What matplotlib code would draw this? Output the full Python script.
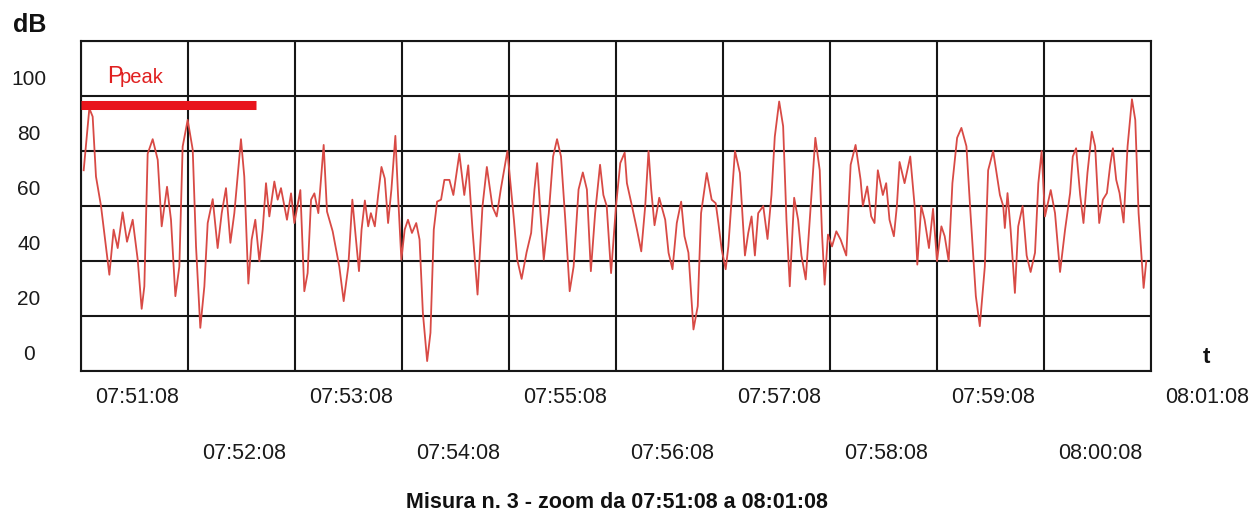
import matplotlib.pyplot as plt
import matplotlib.transforms as mtransforms

plt.rcParams['font.family'] = ['Liberation Sans', 'DejaVu Sans']

# minutes after 07:51:08, level in dB
t_min = [
    0.025, 0.078, 0.109, 0.140, 0.187, 0.265, 0.305, 0.343, 0.389, 0.430,
    0.483, 0.530, 0.567, 0.592, 0.623, 0.670, 0.717, 0.754, 0.804, 0.841,
    0.882, 0.919, 0.950, 0.997, 1.044, 1.075, 1.115, 1.153, 1.184, 1.231,
    1.277, 1.315, 1.355, 1.396, 1.433, 1.495, 1.526, 1.564, 1.595, 1.629,
    1.667, 1.698, 1.729, 1.760, 1.807, 1.838, 1.869, 1.925, 1.963, 1.994,
    2.050, 2.087, 2.118, 2.150, 2.181, 2.218, 2.268, 2.299, 2.352, 2.414,
    2.455, 2.498, 2.536, 2.567, 2.598, 2.622, 2.653, 2.684, 2.709, 2.746,
    2.777, 2.808, 2.839, 2.870, 2.901, 2.938, 2.963, 2.994, 3.025, 3.056,
    3.093, 3.133, 3.164, 3.195, 3.235, 3.266, 3.297, 3.328, 3.365, 3.396,
    3.443, 3.480, 3.536, 3.582, 3.619, 3.659, 3.706, 3.752, 3.793, 3.845,
    3.885, 3.923, 3.985, 4.046, 4.077, 4.118, 4.164, 4.207, 4.238, 4.263,
    4.294, 4.325, 4.372, 4.412, 4.449, 4.486, 4.526, 4.567, 4.604, 4.650,
    4.690, 4.728, 4.765, 4.805, 4.851, 4.882, 4.913, 4.954, 5.000, 5.040,
    5.081, 5.102, 5.149, 5.196, 5.236, 5.273, 5.304, 5.329, 5.360, 5.404,
    5.460, 5.491, 5.528, 5.568, 5.609, 5.640, 5.677, 5.724, 5.764, 5.795,
    5.848, 5.894, 5.932, 5.957, 5.988, 6.025, 6.050, 6.112, 6.158, 6.205,
    6.236, 6.267, 6.298, 6.329, 6.376, 6.416, 6.453, 6.484, 6.525, 6.562,
    6.593, 6.624, 6.665, 6.702, 6.733, 6.773, 6.811, 6.863, 6.904, 6.925,
    6.950, 6.981, 7.019, 7.059, 7.099, 7.152, 7.193, 7.239, 7.286, 7.307,
    7.348, 7.385, 7.416, 7.447, 7.494, 7.525, 7.556, 7.597, 7.625, 7.650,
    7.697, 7.750, 7.791, 7.816, 7.853, 7.884, 7.925, 7.963, 8.000, 8.041,
    8.072, 8.109, 8.144, 8.188, 8.228, 8.275, 8.313, 8.363, 8.400, 8.447,
    8.478, 8.525, 8.556, 8.588, 8.619, 8.634, 8.659, 8.688, 8.728, 8.759,
    8.800, 8.838, 8.875, 8.916, 8.947, 8.978, 9.009, 9.063, 9.103, 9.150,
    9.197, 9.244, 9.269, 9.300, 9.338, 9.369, 9.406, 9.447, 9.478, 9.516,
    9.550, 9.588, 9.619, 9.644, 9.675, 9.706, 9.744, 9.781, 9.822, 9.853,
    9.884, 9.931, 9.956,
]
level_db = [
    73, 95.5, 92.5, 70.7, 60, 35, 51.4, 44.7, 57.7, 47,
    55, 40.5, 22.6, 30.8, 79, 84.3, 76.8, 52.6, 67, 55,
    27.2, 38, 81.6, 91.3, 80.5, 45.3, 15.7, 30.8, 53.8, 62.5,
    44.7, 57.4, 66.5, 46.6, 57.4, 84.3, 70.7, 31.8, 47.8, 55,
    39.9, 51.4, 68.3, 56.2, 68.9, 62.3, 66.5, 55, 64.6, 53.8,
    65.8, 29, 35.6, 62.3, 64.6, 57.4, 82.2, 58, 50.8, 38,
    25.4, 38, 62.3, 49, 36.3, 51.4, 62, 52.6, 57.4, 52.6,
    64, 74.2, 70, 53.8, 66, 85.5, 64, 40.5, 51.4, 55,
    50.2, 53.8, 47.8, 21.2, 3.6, 13.9, 51.4, 61.6, 62.3, 69.5,
    69.5, 64, 79, 64, 74.8, 51.4, 27.8, 59.8, 74.2, 59.8,
    56.2, 66, 80, 55, 40.5, 33.5, 43.1, 50.2, 66, 75.6,
    57.4, 40.5, 57.4, 78, 84.3, 78, 55, 29, 38, 66,
    72.2, 66, 36.3, 57.4, 75, 64, 60, 35.6, 60, 75.6,
    79.4, 68.3, 60, 51.4, 43.5, 60, 80, 66, 53, 63,
    55, 43, 37, 53.8, 61.6, 49, 43, 15.1, 23.6, 57.4,
    72, 62.3, 61, 53.8, 44.1, 37, 45.3, 80, 72, 42,
    50.2, 56.2, 42, 57.4, 60, 48, 64, 85.2, 98, 89,
    55, 30.8, 63, 55, 42, 33.3, 55, 84.8, 73, 50.2,
    31.4, 49.6, 45.3, 50.8, 47.8, 42, 75, 82.2, 69.5, 60,
    67.1, 56.2, 53.8, 73, 64, 68.3, 55, 49, 60, 76,
    68.3, 78, 60, 38.7, 60, 55, 44.7, 59, 40, 52.6,
    49, 40, 68.3, 84.8, 88.4, 81.7, 57.4, 27.2, 16.3, 38,
    73, 80, 72, 64, 60, 52, 64.7, 51.4, 28.4, 52.6,
    60, 42, 36, 43, 68.3, 80, 56.2, 65.8, 57.4, 36,
    51.4, 64.7, 78, 81, 64, 53.8, 72, 87, 81.7, 53.8,
    62.3, 64.7, 75, 81, 69.5, 64.7, 54, 81.7, 98.8, 91.3,
    57.4, 30.2, 40,
]

p_peak = 96.9          # dB
p_peak_span = [0, 1.636]

time_labels = ['07:51:08', '07:52:08', '07:53:08', '07:54:08', '07:55:08', '07:56:08',
               '07:57:08', '07:58:08', '07:59:08', '08:00:08', '08:01:08']
db_labels = [0, 20, 40, 60, 80, 100]

fig = plt.figure(figsize=(12.5, 5.17), dpi=100)
ax = fig.add_axes([0.0648, 0.2824, 0.856, 0.6383])

grid_c = '#161616'
ax.set_xlim(0, 10)
ax.set_ylim(0, 120)
ax.set_xticks(range(11))
ax.set_yticks(range(0, 121, 20))
ax.grid(True, color=grid_c, linewidth=1.5)
ax.tick_params(length=0, labelbottom=False, labelleft=False)
for s in ax.spines.values():
    s.set_color(grid_c)
    s.set_linewidth(1.5)

ax.plot(t_min, level_db, color='#d84a45', linewidth=1.3, zorder=3,
        solid_joinstyle='round')
ax.plot(p_peak_span, [p_peak, p_peak], color='#e8141c', linewidth=6.5,
        solid_capstyle='butt', zorder=4, clip_on=False)

# P peak label
ax.text(0.0243, 0.873, 'P', transform=ax.transAxes, color='#e02020',
        fontsize=17, va='baseline', ha='left')
ax.text(0.0365, 0.873, 'peak', transform=ax.transAxes, color='#e02020',
        fontsize=14.5, va='baseline', ha='left')

# y labels sit a bit above their grid lines
ylab_off = mtransforms.ScaledTranslation(0, 0.16, fig.dpi_scale_trans)
ytrans = mtransforms.blended_transform_factory(ax.transAxes, ax.transData) + ylab_off
for v in db_labels:
    ax.text(-0.0486, v, str(v), transform=ytrans, ha='center', va='center',
            fontsize=15, color='#1a1a1a')

# time labels, alternating rows, shifted right of their grid line
xtrans = mtransforms.blended_transform_factory(ax.transData, ax.transAxes)
for i, lab in enumerate(time_labels):
    yy = -0.0818 if i % 2 == 0 else -0.2485
    ax.text(i + 0.523, yy, lab, transform=xtrans, ha='center', va='center',
            fontsize=15.5, color='#1a1a1a')

fig.text(0.024, 0.9516, 'dB', ha='center', va='center', fontsize=18,
         fontweight='bold', color='#111111')
fig.text(0.9648, 0.309, 't', ha='center', va='center', fontsize=16,
         fontweight='bold', color='#111111')
fig.text(0.4936, 0.029, 'Misura n. 3 - zoom da 07:51:08 a 08:01:08', ha='center',
         va='center', fontsize=15.5, fontweight='bold', color='#111111')

fig.savefig('out.png', dpi=100)
